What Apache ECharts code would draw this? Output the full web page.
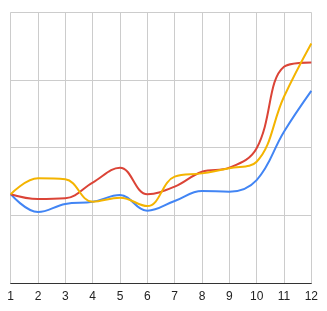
<!DOCTYPE html>
<html>
<head>
<meta charset="utf-8">
<script src="https://cdn.jsdelivr.net/npm/echarts@6/dist/echarts.min.js"></script>
<style>
  html, body { margin: 0; padding: 0; background: #fff; }
  #chart { width: 327px; height: 311px; }
</style>
</head>
<body>
<div id="chart"></div>
<script>
var months = [1, 2, 3, 4, 5, 6, 7, 8, 9, 10, 11, 12];
var blueVals = [32.8, 26.2, 29.2, 30.0, 32.5, 26.7, 30.3, 34.0, 33.7, 38.0, 55.9, 71.0];
var redVals = [32.8, 31.0, 31.3, 37.1, 42.6, 32.8, 35.6, 41.1, 42.6, 49.8, 79.9, 81.5];
var yellowVals = [32.8, 38.7, 38.3, 30.0, 31.5, 28.4, 39.3, 40.5, 42.4, 44.8, 68.8, 88.5];

function pairs(vals) {
  var out = [];
  for (var i = 0; i < vals.length; i++) {
    out.push([months[i], vals[i]]);
  }
  return out;
}

function makeLine(name, vals, color) {
  return {
    name: name,
    type: 'line',
    smooth: 0.4,
    symbol: 'none',
    data: pairs(vals),
    lineStyle: { color: color, width: 2 },
    itemStyle: { color: color }
  };
}

var chart = echarts.init(document.getElementById('chart'), null, { renderer: 'canvas' });
chart.setOption({
  animation: false,
  grid: { left: 10.7, right: 15.7, top: 12.3, bottom: 28, containLabel: false },
  xAxis: {
    type: 'value',
    min: 1,
    max: 12,
    interval: 1,
    axisLine: { show: true, lineStyle: { color: '#333', width: 1 } },
    axisTick: { show: false },
    axisLabel: { color: '#222', fontSize: 12, fontFamily: 'Liberation Sans', margin: 8 },
    splitLine: { show: true, lineStyle: { color: '#ccc', width: 1 } }
  },
  yAxis: {
    type: 'value',
    min: 0,
    max: 100,
    interval: 25,
    axisLine: { show: false },
    axisTick: { show: false },
    axisLabel: { show: false },
    splitLine: { show: true, lineStyle: { color: '#ccc', width: 1 } }
  },
  series: [
    makeLine('blue', blueVals, '#4285f4'),
    makeLine('red', redVals, '#db4437'),
    makeLine('yellow', yellowVals, '#f4b400')
  ]
});
</script>
</body>
</html>
